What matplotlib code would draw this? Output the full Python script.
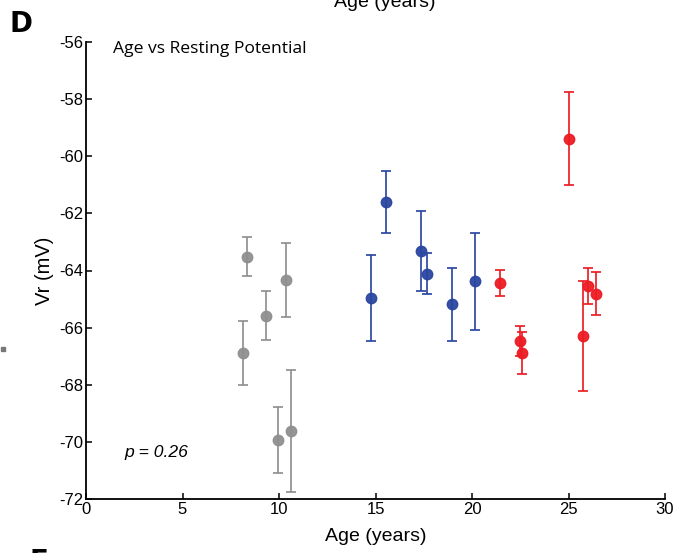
import matplotlib
matplotlib.use("Agg")
import matplotlib.pyplot as plt
from matplotlib.lines import Line2D

# Data (age in years, resting potential Vr in mV, error)
grey_age = [8.12, 8.33, 9.34, 10.35, 9.93, 10.62]
grey_vr = [-66.90, -63.52, -65.58, -64.33, -69.94, -69.62]
grey_err = [1.12, 0.68, 0.87, 1.30, 1.15, 2.13]

blue_age = [14.75, 15.56, 17.36, 17.67, 18.98, 20.17]
blue_vr = [-64.95, -61.61, -63.33, -64.11, -65.19, -64.38]
blue_err = [1.51, 1.08, 1.40, 0.73, 1.28, 1.69]

red_age = [21.47, 22.49, 22.57, 25.03, 25.73, 26.03, 26.44]
red_vr = [-64.43, -66.47, -66.88, -59.38, -66.30, -64.55, -64.81]
red_err = [0.45, 0.53, 0.74, 1.62, 1.93, 0.63, 0.75]

xticks = [0, 5, 10, 15, 20, 25, 30]
yticks = [-72, -70, -68, -66, -64, -62, -60, -58, -56]

fig = plt.figure(figsize=(6.85, 5.53), dpi=100)
ax = fig.add_axes([86/685, 1-499/553, (665-86)/685, (499-42)/553])

groups = [
    (grey_age, grey_vr, grey_err, "#8f8f8f"),
    (blue_age, blue_vr, blue_err, "#2a46a0"),
    (red_age, red_vr, red_err, "#ec1c24"),
]
for a, v, e, c in groups:
    ax.errorbar(a, v, yerr=e, fmt="o", color=c, ecolor=c, markersize=7.5,
                capsize=3.5, elinewidth=1.3, capthick=1.3,
                markeredgecolor=c, alpha=0.95)

ax.set_xlim(0, 30)
ax.set_ylim(-72, -56)
ax.set_xticks(xticks)
ax.set_yticks(yticks)
ax.set_xticklabels([str(t) for t in xticks], family="Liberation Sans", fontsize=12)
ax.set_yticklabels([str(t) for t in yticks], family="Liberation Sans", fontsize=12)
ax.tick_params(direction="in", length=4, width=1.1, pad=2)
for s in ["top", "right"]:
    ax.spines[s].set_visible(False)
for s in ["left", "bottom"]:
    ax.spines[s].set_linewidth(1.3)

ax.set_xlabel("Age (years)", family="Liberation Sans", fontsize=14, labelpad=8)
ax.set_ylabel("Vr (mV)", family="Liberation Sans", fontsize=14.5, labelpad=4)

ax.text(113/685, 1-53/553, "Age vs Resting Potential", transform=fig.transFigure,
        family="Open Sans", fontsize=12.6, va="baseline")
ax.text(124/685, 1-457/553, "p = 0.26", transform=fig.transFigure,
        family="Liberation Sans", fontsize=12.6, style="italic", va="baseline")

fig.text(10/685, 1-32/553, "D", fontsize=20, fontweight="bold",
         family="DejaVu Sans", va="baseline")
fig.text(30/685, 1-570/553, "E", fontsize=20, fontweight="bold",
         family="DejaVu Sans", va="baseline")
fig.text(385/685, 1-7/553, "Age (years)", family="Liberation Sans",
         fontsize=14, ha="center", va="baseline")
fig.add_artist(Line2D([3/685], [1-349/553], marker="s", markersize=3.5,
                      color="#777777", transform=fig.transFigure))

fig.savefig("out.png", dpi=100)
